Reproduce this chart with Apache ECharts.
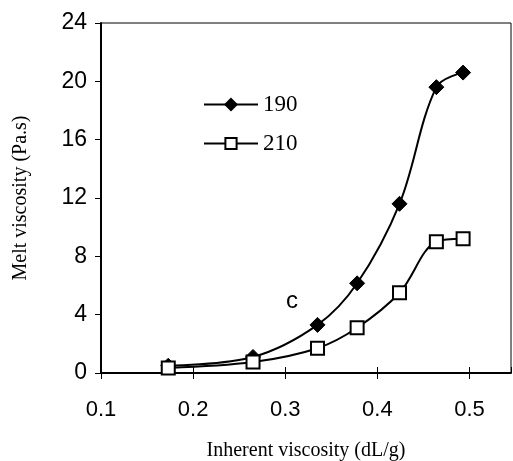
<!DOCTYPE html>
<html>
<head>
<meta charset="utf-8">
<script src="https://cdn.jsdelivr.net/npm/echarts@6/dist/echarts.min.js"></script>
<style>
html, body {margin:0; padding:0; background:#fff;}
#chart {width:513px; height:461px;}
</style>
</head>
<body>
<div id="chart"></div>
<script>
var ivX = [0.173, 0.265, 0.335, 0.378, 0.424, 0.464, 0.493];
var melt190 = [0.5, 1.1, 3.3, 6.15, 11.6, 19.6, 20.6];
var melt210 = [0.35, 0.75, 1.7, 3.1, 5.5, 9.0, 9.2];
var seriesNames = ['190', '210'];

function pairs(xs, ys){
    var out = [];
    for(var i=0; i<xs.length; i++){ out.push([xs[i], ys[i]]); }
    return out;
}

var myChart = echarts.init(document.getElementById('chart'));
var sansFont = 'Liberation Sans', serifFont = 'Liberation Serif';

var option = {
    animation: false,
    backgroundColor: '#fff',
    grid: {left: 101, right: 2, top: 23, bottom: 88, outerBoundsMode: 'none', show: true, borderColor: '#000', borderWidth: 1},
    legend: {
        data: seriesNames,
        orient: 'vertical',
        left: 198, top: 88,
        itemWidth: 54, itemHeight: 14, itemGap: 16,
        textStyle: {color: '#000', fontFamily: serifFont, fontSize: 23}
    },
    xAxis: [{
        type: 'value', min: 0.1, max: 0.545, interval: 0.1,
        name: 'Inherent viscosity (dL/g)', nameLocation: 'middle', nameGap: 68,
        nameTextStyle: {color: '#000', fontFamily: serifFont, fontSize: 20},
        axisLine: {show: true, onZero: false, lineStyle: {color: '#000', width: 2}},
        axisTick: {show: true, length: 6, lineStyle: {color: '#000'}},
        axisLabel: {showMaxLabel: false, margin: 26, color: '#000', fontFamily: sansFont, fontSize: 22,
            formatter: function(v){ return v.toFixed(1); }},
        splitLine: {show: false}
    }, {
        type: 'value', min: 0.1, max: 0.545, interval: 0.1, position: 'bottom',
        axisLine: {show: false},
        axisTick: {show: true, inside: true, length: 6, lineStyle: {color: '#000'}},
        axisLabel: {show: false},
        splitLine: {show: false}
    }],
    yAxis: [{
        type: 'value', min: 0, max: 24, interval: 4,
        name: 'Melt viscosity (Pa.s)', nameLocation: 'middle', nameGap: 70,
        nameTextStyle: {color: '#000', fontFamily: serifFont, fontSize: 20},
        axisLine: {show: true, lineStyle: {color: '#000', width: 2}},
        axisTick: {show: true, length: 6, lineStyle: {color: '#000'}},
        axisLabel: {margin: 14, color: '#000', fontFamily: sansFont, fontSize: 23},
        splitLine: {show: false}
    }],
    graphic: [{
        type: 'text', left: 286, top: 289,
        style: {text: 'c', fill: '#000', font: '24px ' + sansFont}
    }],
    series: [{
        name: seriesNames[0], type: 'line', smooth: 0.35,
        data: pairs(ivX, melt190),
        symbol: 'diamond', symbolSize: 15,
        lineStyle: {color: '#000', width: 2},
        itemStyle: {color: '#000', borderColor: '#000', borderWidth: 1}
    }, {
        name: seriesNames[1], type: 'line', smooth: 0.35,
        data: pairs(ivX, melt210),
        symbol: 'rect', symbolSize: 13,
        lineStyle: {color: '#000', width: 2},
        itemStyle: {color: '#fff', borderColor: '#000', borderWidth: 2}
    }]
};
myChart.setOption(option, true);
</script>
</body>
</html>
